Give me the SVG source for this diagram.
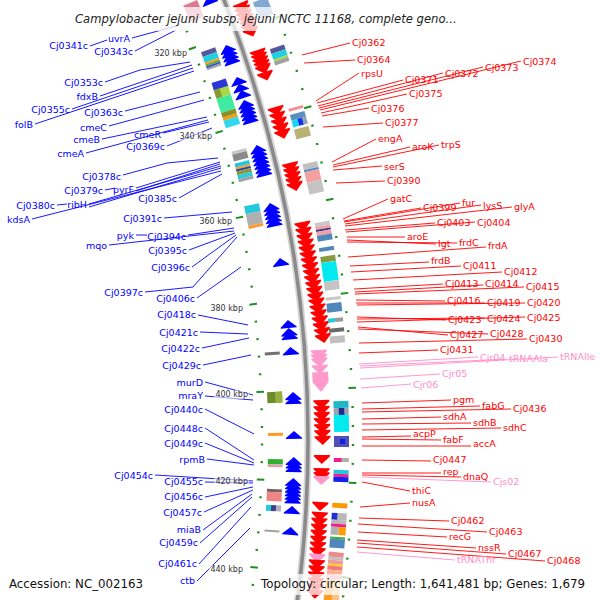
<svg xmlns="http://www.w3.org/2000/svg" width="600" height="600" viewBox="0 0 600 600">
<defs>
<style>
text{font-family:"DejaVu Sans","Liberation Sans",sans-serif}
.bl{font-size:9.5px;fill:#0000ff;text-anchor:end}
.rd{font-size:9.5px;fill:#ff0000}
.pk{font-size:9.5px;fill:#ff8ec8}
.tk{font-size:8px;fill:#333;text-anchor:end}
.lb{stroke:#0000ff;stroke-width:0.9;fill:none}
.lr{stroke:#ff0000;stroke-width:0.9;fill:none}
.lp{stroke:#ff8ec8;stroke-width:0.9;fill:none}
.tkbg{fill:#fff;fill-opacity:0.55}
.band{fill:#fff;fill-opacity:0.75}
</style>
<path id="bc" d="M1181 0L1189 7V8H1173V7Z"/>
<path id="rc" d="M1201 0H1217V1.5L1209 9L1201 1.5Z"/>
<g id="td"><rect x="1147.8" y="-1" width="2.4" height="2"/><rect x="1238.8" y="-1" width="2.4" height="2"/></g>
<g id="tm"><rect x="1144.5" y="-1" width="7.5" height="2"/><rect x="1236.5" y="-1" width="7.5" height="2"/></g>
<rect id="ti" x="1147.8" y="-1" width="2.4" height="2"/>
</defs>
<rect width="600" height="600" fill="#fff"/>

<g id="backbone" fill="none">
<circle cx="-887" cy="440" r="1195" stroke="#d6d6d6" stroke-width="7"/>
<circle cx="-887" cy="440" r="1195" stroke="#8a8a8a" stroke-width="3.6"/>
</g>

<g id="features" transform="translate(-887 440)">
<g fill="#0000ff">
<g transform="rotate(-22.05)"><use href="#bc"/></g>
<g transform="rotate(-19.54)"><use href="#bc"/><use href="#bc" y="4"/><use href="#bc" y="8"/><use href="#bc" y="12"/></g>
<g transform="rotate(-17.90)"><use href="#bc"/><use href="#bc" y="7"/><use href="#bc" y="14"/></g>
<g transform="rotate(-16.73)"><use href="#bc"/><use href="#bc" y="4"/><use href="#bc" y="8"/><use href="#bc" y="12"/><use href="#bc" y="16"/></g>
<g transform="rotate(-14.46)"><use href="#bc"/><use href="#bc" y="4"/><use href="#bc" y="8"/><use href="#bc" y="12"/><use href="#bc" y="16"/><use href="#bc" y="20"/><use href="#bc" y="24"/></g>
<g transform="rotate(-11.58)"><use href="#bc"/><use href="#bc" y="4"/><use href="#bc" y="8"/><use href="#bc" y="12"/><use href="#bc" y="16"/></g>
<g transform="rotate(-8.86)"><use href="#bc"/></g>
<g transform="rotate(-5.83)"><use href="#bc"/></g>
<g transform="rotate(-5.44)"><use href="#bc"/><use href="#bc" y="3.5"/></g>
<g transform="rotate(-4.52)"><use href="#bc"/></g>
<g transform="rotate(-2.33)"><use href="#bc"/><use href="#bc" y="4"/></g>
<g transform="rotate(-0.44)"><use href="#bc"/></g>
<g transform="rotate(0.83)"><use href="#bc"/><use href="#bc" y="3.5"/><use href="#bc" y="7"/></g>
<g transform="rotate(1.84)"><use href="#bc"/><use href="#bc" y="3.5"/><use href="#bc" y="7"/><use href="#bc" y="10.5"/><use href="#bc" y="14"/><use href="#bc" y="17.5"/></g>
<g transform="rotate(3.20)"><use href="#bc"/></g>
<g transform="rotate(4.22)"><use href="#bc"/></g>
</g>
<g fill="#ff0000">
<g transform="rotate(-21.19)"><use href="#rc"/><use href="#rc" y="4.5"/><use href="#rc" y="9"/><use href="#rc" y="13.5"/><use href="#rc" y="18"/><use href="#rc" y="22.5"/><use href="#rc" y="27"/></g>
<g transform="rotate(-18.82)"><use href="#rc"/><use href="#rc" y="4"/><use href="#rc" y="8"/><use href="#rc" y="12"/><use href="#rc" y="16"/></g>
<g transform="rotate(-17.72)"><use href="#rc"/></g>
<g transform="rotate(-15.99)"><use href="#rc"/><use href="#rc" y="6"/><use href="#rc" y="12"/><use href="#rc" y="18"/><use href="#rc" y="24"/></g>
<g transform="rotate(-13.25)"><use href="#rc"/><use href="#rc" y="5"/><use href="#rc" y="10"/><use href="#rc" y="15"/><use href="#rc" y="20"/></g>
<g transform="rotate(-10.39)"><use href="#rc"/><use href="#rc" y="6"/><use href="#rc" y="12"/><use href="#rc" y="18"/><use href="#rc" y="24"/><use href="#rc" y="30"/><use href="#rc" y="36"/><use href="#rc" y="42"/><use href="#rc" y="48"/><use href="#rc" y="54"/><use href="#rc" y="60"/><use href="#rc" y="66"/><use href="#rc" y="72"/><use href="#rc" y="78"/><use href="#rc" y="84"/><use href="#rc" y="90"/><use href="#rc" y="96"/><use href="#rc" y="102"/><use href="#rc" y="108"/><use href="#rc" y="114"/></g>
<g transform="rotate(-1.90)"><use href="#rc"/><use href="#rc" y="6"/><use href="#rc" y="12"/><use href="#rc" y="18"/><use href="#rc" y="24"/><use href="#rc" y="30"/><use href="#rc" y="36"/></g>
<g transform="rotate(0.71)"><use href="#rc"/></g>
<g transform="rotate(1.33)"><use href="#rc"/><use href="#rc" y="4"/><use href="#rc" y="8" fill="#ff99cc"/></g>
<g transform="rotate(2.94)"><use href="#rc"/></g>
<g transform="rotate(3.41)"><use href="#rc"/><use href="#rc" y="6"/><use href="#rc" y="12"/><use href="#rc" y="18"/><use href="#rc" y="24"/><use href="#rc" y="30"/><use href="#rc" y="36"/><use href="#rc" y="42" fill="#ff99cc"/><use href="#rc" y="48"/><use href="#rc" y="54"/><use href="#rc" y="60"/><use href="#rc" y="66"/><use href="#rc" y="72"/><use href="#rc" y="78"/></g>
</g>
<g fill="#ff99cc">
<g transform="rotate(-4.27)"><use href="#rc"/><use href="#rc" y="4"/><use href="#rc" y="8"/></g>
<g transform="rotate(-3.56)"><use href="#rc"/></g>
<g transform="rotate(-3.22)"><path d="M1201 0H1217V10L1209 20L1201 10Z"/></g>
</g>
<g transform="rotate(-22.09)"><rect x="1155" y="0" width="15" height="18" fill="#e07a90"/></g>
<g transform="rotate(-19.61)"><rect x="1155" y="0" width="15" height="5" fill="#565699"/><rect x="1155" y="5" width="15" height="6" fill="#1fd0e2"/><rect x="1155" y="11" width="15" height="2" fill="#ff9a22"/><rect x="1155" y="13" width="15" height="2" fill="#6aaa30"/><rect x="1155" y="15" width="15" height="2" fill="#3355cc"/><rect x="1155" y="17" width="15" height="2" fill="#a0a0a0"/></g>
<g transform="rotate(-18.0)"><rect x="1155" y="0" width="15" height="9" fill="#2a36d8"/></g>
<g transform="rotate(-17.63)"><rect x="1155" y="0" width="15" height="9" fill="#a8d848"/><rect x="1155" y="0" width="6" height="9" fill="#8a9a30"/><rect x="1155" y="9" width="15" height="15" fill="#40eaa0"/><rect x="1155" y="24" width="15" height="5" fill="#8a9030"/><rect x="1155" y="29" width="15" height="3" fill="#ff9900"/><rect x="1155" y="32" width="15" height="8" fill="#30d8ee"/></g>
<g transform="rotate(-14.45)"><rect x="1155" y="0" width="15" height="3" fill="#c8c8c8"/><rect x="1155" y="3" width="15" height="7" fill="#8a8a8a"/></g>
<g transform="rotate(-13.84)"><rect x="1155" y="0" width="15" height="4" fill="#22c8dc"/><rect x="1155" y="4" width="15" height="2" fill="#ff9a30"/><rect x="1155" y="6" width="15" height="2" fill="#2840a8"/><rect x="1155" y="8" width="15" height="4" fill="#8a9a40"/><rect x="1155" y="12" width="15" height="4" fill="#30c8dc"/><rect x="1155" y="16" width="15" height="3" fill="#a0a0a0"/></g>
<g transform="rotate(-11.67)"><rect x="1155" y="0" width="15" height="8" fill="#22c8dc"/><rect x="1155" y="8" width="15" height="12" fill="#b0b0b0"/><rect x="1155" y="20" width="15" height="3" fill="#ff9a30"/></g>
<g transform="rotate(-4.34)"><rect x="1155" y="0" width="15" height="3" fill="#707070"/></g>
<g transform="rotate(-2.37)"><rect x="1155" y="0" width="15" height="11" fill="#6b8c2a"/><rect x="1163" y="0" width="7" height="11" fill="#93b040"/></g>
<g transform="rotate(-0.35)"><rect x="1155" y="0" width="15" height="3" fill="#ff9a22"/></g>
<g transform="rotate(0.94)"><rect x="1155" y="0" width="15" height="5" fill="#30b030"/><rect x="1155" y="5" width="15" height="3" fill="#d8a8a8"/></g>
<g transform="rotate(2.42)"><rect x="1155" y="0" width="15" height="3" fill="#7a6060"/><rect x="1155" y="3" width="15" height="9" fill="#ee8484"/></g>
<g transform="rotate(3.21)"><rect x="1155" y="0" width="5" height="6" fill="#22ccdd"/><rect x="1160" y="0" width="5" height="6" fill="#404088"/><rect x="1165" y="0" width="5" height="6" fill="#b0b0c0"/></g>
<g transform="rotate(4.44)"><rect x="1155" y="0" width="15" height="2" fill="#a0a0a0"/></g>
<g transform="rotate(-21.0)"><rect x="1221" y="0" width="15" height="18" fill="#80a8d0"/></g>
<g transform="rotate(-18.66)"><rect x="1221" y="0" width="15" height="5" fill="#565699"/><rect x="1221" y="5" width="15" height="6" fill="#1fd0e2"/><rect x="1221" y="11" width="15" height="2" fill="#a8d848"/><rect x="1221" y="13" width="15" height="4" fill="#a0a0a0"/></g>
<g transform="rotate(-15.73)"><rect x="1221" y="0" width="15" height="3" fill="#f09090"/></g>
<g transform="rotate(-15.44)"><rect x="1221" y="0" width="15" height="6" fill="#5b8fc0"/><rect x="1221" y="6" width="6" height="7" fill="#18d8ee"/><rect x="1227" y="6" width="5" height="7" fill="#1030ee"/><rect x="1232" y="6" width="4" height="7" fill="#90a0b0"/></g>
<g transform="rotate(-14.72)"><rect x="1221" y="0" width="15" height="10" fill="#b8b274"/></g>
<g transform="rotate(-13.04)"><rect x="1221" y="0" width="15" height="6" fill="#c0c0c0"/><rect x="1221" y="6" width="15" height="2" fill="#4a8ac0"/><rect x="1221" y="8" width="15" height="11" fill="#f4a0a0"/><rect x="1221" y="19" width="15" height="12" fill="#c4c4c4"/></g>
<g transform="rotate(-10.23)"><rect x="1221" y="0" width="15" height="4" fill="#c8c8c8"/><rect x="1221" y="4" width="15" height="3" fill="#f0a0a8"/><rect x="1221" y="7" width="15" height="2" fill="#383878"/><rect x="1221" y="9" width="15" height="4" fill="#f0a0a8"/><rect x="1221" y="13" width="15" height="6" fill="#4f86bb"/></g>
<g transform="rotate(-9.04)"><rect x="1221" y="0" width="15" height="4" fill="#4f86bb"/></g>
<g transform="rotate(-8.62)"><rect x="1221" y="0" width="15" height="6" fill="#8a9a40"/></g>
<g transform="rotate(-8.33)"><rect x="1221" y="0" width="15" height="19" fill="#00eaf0"/></g>
<g transform="rotate(-7.44)"><rect x="1221" y="0" width="15" height="9" fill="#c4c4c4"/></g>
<g transform="rotate(-6.69)"><rect x="1221" y="0" width="15" height="3" fill="#c8c8c8"/></g>
<g transform="rotate(-6.41)"><rect x="1221" y="0" width="15" height="9" fill="#4f86bb"/></g>
<g transform="rotate(-5.70)"><rect x="1221" y="0" width="7" height="4" fill="#22c8dc"/><rect x="1228" y="0" width="8" height="4" fill="#9a9a9a"/></g>
<g transform="rotate(-5.23)"><rect x="1221" y="0" width="15" height="4" fill="#6a6a6a"/></g>
<g transform="rotate(-4.86)"><rect x="1221" y="0" width="15" height="7" fill="#c0c0c0"/></g>
<g transform="rotate(-1.82)"><rect x="1221" y="0" width="15" height="7" fill="#20b8c8"/></g>
<g transform="rotate(-1.49)"><rect x="1221" y="0" width="5" height="7" fill="#a0a0b0"/><rect x="1226" y="0" width="6" height="7" fill="#1a2a90"/><rect x="1232" y="0" width="4" height="7" fill="#a0a0b0"/></g>
<g transform="rotate(-1.17)"><rect x="1221" y="0" width="15" height="17" fill="#00eaf0"/></g>
<g transform="rotate(-0.19)"><rect x="1221" y="0" width="15" height="11" fill="#5050b8"/><rect x="1227" y="3" width="5" height="5" fill="#1020e0"/></g>
<g transform="rotate(0.84)"><rect x="1221" y="0" width="8" height="4" fill="#ee2090"/><rect x="1229" y="0" width="7" height="4" fill="#b0b0b0"/></g>
<g transform="rotate(1.40)"><rect x="1221" y="0" width="15" height="4" fill="#20c8dc"/><rect x="1221" y="4" width="15" height="3" fill="#ee2090"/><rect x="1221" y="7" width="15" height="5" fill="#1020ee"/></g>
<g transform="rotate(2.94)"><rect x="1221" y="0" width="15" height="5" fill="#ff9900"/></g>
<g transform="rotate(3.41)"><rect x="1221" y="0" width="6" height="7" fill="#2030d0"/><rect x="1227" y="0" width="9" height="7" fill="#b8b8b8"/></g>
<g transform="rotate(3.73)"><rect x="1221" y="0" width="15" height="4" fill="#b8b8b8"/><rect x="1221" y="4" width="15" height="3" fill="#ee2090"/><rect x="1221" y="7" width="8" height="8" fill="#b0b0b0"/><rect x="1229" y="7" width="7" height="8" fill="#ff9900"/></g>
<g transform="rotate(4.53)"><rect x="1221" y="0" width="15" height="2" fill="#30b030"/><rect x="1221" y="2" width="15" height="9" fill="#4f86bb"/></g>
<g transform="rotate(5.24)"><rect x="1221" y="0" width="15" height="5" fill="#ee8a8a"/><rect x="1221" y="5" width="15" height="3" fill="#c0c0c0"/><rect x="1221" y="8" width="15" height="4" fill="#f09a9a"/><rect x="1221" y="12" width="15" height="2" fill="#ffcc22"/><rect x="1221" y="14" width="15" height="4" fill="#ee7a7a"/><rect x="1221" y="18" width="15" height="4" fill="#ffb090"/><rect x="1221" y="22" width="15" height="6" fill="#ee8888"/></g>
<g transform="rotate(6.55)"><rect x="1221" y="0" width="8" height="21" fill="#ff9a22"/><rect x="1229" y="0" width="7" height="21" fill="#ffc080"/></g>
<g fill="#1f8f1f">
<use href="#ti" transform="rotate(-21.704)"/><use href="#ti" transform="rotate(-20.827)"/>
<use href="#tm" transform="rotate(-19.95)"/>
<use href="#td" transform="rotate(-19.073)"/><use href="#td" transform="rotate(-18.196)"/><use href="#td" transform="rotate(-17.318)"/><use href="#td" transform="rotate(-16.441)"/>
<use href="#tm" transform="rotate(-15.564)"/>
<use href="#td" transform="rotate(-14.687)"/><use href="#td" transform="rotate(-13.810)"/><use href="#td" transform="rotate(-12.932)"/><use href="#td" transform="rotate(-12.055)"/>
<use href="#tm" transform="rotate(-11.178)"/>
<use href="#td" transform="rotate(-10.301)"/><use href="#td" transform="rotate(-9.424)"/><use href="#td" transform="rotate(-8.546)"/><use href="#td" transform="rotate(-7.669)"/>
<use href="#tm" transform="rotate(-6.792)"/>
<use href="#td" transform="rotate(-5.915)"/><use href="#td" transform="rotate(-5.038)"/><use href="#td" transform="rotate(-4.160)"/><use href="#td" transform="rotate(-3.283)"/>
<use href="#tm" transform="rotate(-2.406)"/>
<use href="#td" transform="rotate(-1.529)"/><use href="#td" transform="rotate(-0.652)"/><use href="#td" transform="rotate(0.226)"/><use href="#td" transform="rotate(1.103)"/>
<use href="#tm" transform="rotate(1.980)"/>
<use href="#td" transform="rotate(2.857)"/><use href="#td" transform="rotate(3.735)"/><use href="#td" transform="rotate(4.612)"/><use href="#td" transform="rotate(5.489)"/>
<use href="#tm" transform="rotate(6.366)"/>
<use href="#td" transform="rotate(7.243)"/>
</g>
</g>

<g id="connectors">
<g class="lb">
<path d="M90 46L107 40"/><path d="M132 38L180 25"/><path d="M135 51L176 30"/>
<path d="M105 82L140 70L190 62"/><path d="M100 96L192 65"/><path d="M72 109L193 68"/><path d="M35 124L194 71"/>
<path d="M125 111L200 92"/><path d="M109 126L204 100"/><path d="M163 133L209 122"/><path d="M102 139L207 117"/><path d="M167 146L212 128"/><path d="M86 153L208 120"/>
<path d="M123 175L167 163L218 158"/><path d="M105 190L115 188"/><path d="M136 188L220 162"/><path d="M136 191L220 164"/><path d="M179 198L222 174"/>
<path d="M57 205L67 204"/><path d="M89 204L221 166"/><path d="M89 207L221 168"/><path d="M32 219L221 171"/>
<path d="M164 218L232 212"/><path d="M136 235L147 235"/><path d="M188 235L234 228"/><path d="M109 245L234 231"/><path d="M189 250L235 233"/><path d="M192 267L236 235"/><path d="M145 292L193 287L237 237"/><path d="M197 298L241 267"/>
<path d="M198 315L248 325"/><path d="M200 332L248 334"/><path d="M202 348L249 338"/><path d="M203 365L251 355"/><path d="M205 382L253 395"/><path d="M205 396L253 400"/><path d="M205 409L254 434"/><path d="M205 428L254 460"/><path d="M205 443L254 463"/><path d="M207 459L254 465"/>
<path d="M155 475L253 481"/><path d="M205 482L253 483"/><path d="M205 497L253 487"/><path d="M204 512L253 490"/><path d="M203 530L252 494"/><path d="M200 543L252 497"/><path d="M199 564L251 507"/><path d="M197 581L250 528"/>
</g>
<g class="lr">
<path d="M302 55L350 43"/><path d="M304 63L355 60"/><path d="M316 101L359 73"/><path d="M317 103L403 80"/><path d="M318 106L443 73"/><path d="M319 108L483 67"/><path d="M320 110L521 61"/><path d="M321 113L407 94"/><path d="M322 116L369 108"/><path d="M323 127L383 123"/>
<path d="M332 162L376 139"/><path d="M333 165L410 147"/><path d="M333 167L439 145"/><path d="M333 170L382 166"/><path d="M336 183L385 181"/>
<path d="M343 219L388 199"/><path d="M344 221L421 208"/><path d="M344 222L460 203"/><path d="M345 224L481 205"/><path d="M345 226L512 207"/><path d="M345 230L435 223"/><path d="M346 232L475 222"/>
<path d="M347 237L405 237"/><path d="M347 240L436 244"/><path d="M347 242L457 243"/><path d="M348 257L486 247"/><path d="M350 266L429 262"/><path d="M351 272L461 266"/><path d="M353 280L502 272"/>
<path d="M354 289L443 284"/><path d="M355 292L483 285"/><path d="M355 294L524 287"/><path d="M356 300L445 301"/><path d="M356 303L485 303"/><path d="M357 305L525 303"/>
<path d="M357 317L446 320"/><path d="M357 319L485 318"/><path d="M357 322L525 317"/><path d="M358 327L448 335"/><path d="M358 329L488 334"/><path d="M359 343L527 339"/><path d="M359 353L438 350"/>
<path d="M362 403L451 400"/><path d="M362 409L480 406"/><path d="M362 412L511 409"/><path d="M362 419L441 417"/><path d="M362 424L471 423"/><path d="M362 430L501 428"/><path d="M362 437L411 436"/><path d="M362 439L441 440"/><path d="M362 446L471 446"/>
<path d="M362 460L431 461"/><path d="M362 473L441 473"/><path d="M362 475L461 477"/><path d="M362 482L410 491"/><path d="M360 507L410 503"/>
<path d="M359 518L449 521"/><path d="M358 524L487 532"/><path d="M358 532L447 537"/><path d="M357 540L476 548"/><path d="M357 543L506 554"/><path d="M357 547L545 561"/>
</g>
<g class="lp">
<path d="M359 364L478 357"/><path d="M360 366L507 359"/><path d="M360 368L558 357"/><path d="M360 379L440 374"/><path d="M361 388L411 384"/><path d="M362 477L491 482"/><path d="M357 552L455 560"/>
</g>
</g>

<g id="tick-labels">
<rect class="tkbg" x="153" y="49" width="35" height="9"/><text class="tk" x="187" y="56">320 kbp</text>
<rect class="tkbg" x="178" y="132" width="35" height="9"/><text class="tk" x="212" y="139">340 kbp</text>
<rect class="tkbg" x="198" y="217" width="35" height="9"/><text class="tk" x="232" y="224">360 kbp</text>
<rect class="tkbg" x="209" y="304" width="35" height="9"/><text class="tk" x="243" y="311">380 kbp</text>
<rect class="tkbg" x="214" y="390" width="35" height="9"/><text class="tk" x="248" y="397">400 kbp</text>
<rect class="tkbg" x="214" y="477" width="35" height="9"/><text class="tk" x="248" y="484">420 kbp</text>
<rect class="tkbg" x="209" y="565" width="35" height="9"/><text class="tk" x="243" y="572">440 kbp</text>
</g>

<g id="labels-left">
<text class="bl" x="88" y="49">Cj0341c</text>
<text class="bl" x="130" y="42">uvrA</text>
<text class="bl" x="133" y="55">Cj0343c</text>
<text class="bl" x="103" y="86">Cj0353c</text>
<text class="bl" x="98" y="100">fdxB</text>
<text class="bl" x="70" y="113">Cj0355c</text>
<text class="bl" x="123" y="116">Cj0363c</text>
<text class="bl" x="33" y="128">folB</text>
<text class="bl" x="107" y="131">cmeC</text>
<text class="bl" x="161" y="138">cmeR</text>
<text class="bl" x="100" y="143">cmeB</text>
<text class="bl" x="165" y="150">Cj0369c</text>
<text class="bl" x="84" y="157">cmeA</text>
<text class="bl" x="121" y="180">Cj0378c</text>
<text class="bl" x="103" y="194">Cj0379c</text>
<text class="bl" x="134" y="193">pyrF</text>
<text class="bl" x="177" y="202">Cj0385c</text>
<text class="bl" x="55" y="209">Cj0380c</text>
<text class="bl" x="87" y="208">ribH</text>
<text class="bl" x="30" y="223">kdsA</text>
<text class="bl" x="162" y="222">Cj0391c</text>
<text class="bl" x="134" y="239">pyk</text>
<text class="bl" x="186" y="240">Cj0394c</text>
<text class="bl" x="107" y="249">mqo</text>
<text class="bl" x="187" y="254">Cj0395c</text>
<text class="bl" x="190" y="271">Cj0396c</text>
<text class="bl" x="143" y="296">Cj0397c</text>
<text class="bl" x="195" y="302">Cj0406c</text>
<text class="bl" x="196" y="318">Cj0418c</text>
<text class="bl" x="198" y="336">Cj0421c</text>
<text class="bl" x="200" y="352">Cj0422c</text>
<text class="bl" x="201" y="369">Cj0429c</text>
<text class="bl" x="203" y="386">murD</text>
<text class="bl" x="203" y="399">mraY</text>
<text class="bl" x="203" y="413">Cj0440c</text>
<text class="bl" x="203" y="432">Cj0448c</text>
<text class="bl" x="203" y="447">Cj0449c</text>
<text class="bl" x="205" y="463">rpmB</text>
<text class="bl" x="153" y="479">Cj0454c</text>
<text class="bl" x="203" y="485">Cj0455c</text>
<text class="bl" x="203" y="500">Cj0456c</text>
<text class="bl" x="202" y="516">Cj0457c</text>
<text class="bl" x="201" y="533">miaB</text>
<text class="bl" x="198" y="546">Cj0459c</text>
<text class="bl" x="197" y="567">Cj0461c</text>
<text class="bl" x="195" y="584">ctb</text>
</g>

<g id="labels-right">
<text class="rd" x="352" y="46">Cj0362</text>
<text class="rd" x="357" y="63">Cj0364</text>
<text class="rd" x="361" y="77">rpsU</text>
<text class="rd" x="405" y="83">Cj0371</text>
<text class="rd" x="445" y="77">Cj0372</text>
<text class="rd" x="485" y="71">Cj0373</text>
<text class="rd" x="523" y="65">Cj0374</text>
<text class="rd" x="409" y="97">Cj0375</text>
<text class="rd" x="371" y="112">Cj0376</text>
<text class="rd" x="385" y="126">Cj0377</text>
<text class="rd" x="378" y="142">engA</text>
<text class="rd" x="412" y="150">aroK</text>
<text class="rd" x="441" y="148">trpS</text>
<text class="rd" x="384" y="170">serS</text>
<text class="rd" x="387" y="184">Cj0390</text>
<text class="rd" x="390" y="202">gatC</text>
<text class="rd" x="423" y="211">Cj0399</text>
<text class="rd" x="462" y="206">fur</text>
<text class="rd" x="483" y="209">lysS</text>
<text class="rd" x="514" y="210">glyA</text>
<text class="rd" x="437" y="226">Cj0403</text>
<text class="rd" x="477" y="226">Cj0404</text>
<text class="rd" x="407" y="240">aroE</text>
<text class="rd" x="438" y="247">lgt</text>
<text class="rd" x="459" y="246">frdC</text>
<text class="rd" x="488" y="249">frdA</text>
<text class="rd" x="431" y="264">frdB</text>
<text class="rd" x="463" y="269">Cj0411</text>
<text class="rd" x="504" y="275">Cj0412</text>
<text class="rd" x="445" y="287">Cj0413</text>
<text class="rd" x="485" y="287">Cj0414</text>
<text class="rd" x="526" y="290">Cj0415</text>
<text class="rd" x="447" y="304">Cj0416</text>
<text class="rd" x="487" y="306">Cj0419</text>
<text class="rd" x="527" y="306">Cj0420</text>
<text class="rd" x="448" y="323">Cj0423</text>
<text class="rd" x="487" y="322">Cj0424</text>
<text class="rd" x="527" y="321">Cj0425</text>
<text class="rd" x="450" y="338">Cj0427</text>
<text class="rd" x="490" y="337">Cj0428</text>
<text class="rd" x="529" y="342">Cj0430</text>
<text class="rd" x="440" y="353">Cj0431</text>
<text class="pk" x="480" y="361">Cjr04</text>
<text class="pk" x="509" y="362">tRNAAla</text>
<text class="pk" x="560" y="360">tRNAIle</text>
<text class="pk" x="442" y="377">Cjr05</text>
<text class="pk" x="413" y="388">Cjr06</text>
<text class="rd" x="453" y="403">pgm</text>
<text class="rd" x="482" y="409">fabG</text>
<text class="rd" x="513" y="412">Cj0436</text>
<text class="rd" x="443" y="420">sdhA</text>
<text class="rd" x="473" y="426">sdhB</text>
<text class="rd" x="503" y="431">sdhC</text>
<text class="rd" x="413" y="437">acpP</text>
<text class="rd" x="443" y="443">fabF</text>
<text class="rd" x="473" y="447">accA</text>
<text class="rd" x="433" y="463">Cj0447</text>
<text class="rd" x="443" y="475">rep</text>
<text class="rd" x="463" y="480">dnaQ</text>
<text class="pk" x="493" y="485">Cjs02</text>
<text class="rd" x="412" y="494">thiC</text>
<text class="rd" x="412" y="506">nusA</text>
<text class="rd" x="451" y="524">Cj0462</text>
<text class="rd" x="489" y="535">Cj0463</text>
<text class="rd" x="449" y="540">recG</text>
<text class="rd" x="478" y="551">nssR</text>
<text class="rd" x="508" y="557">Cj0467</text>
<text class="pk" x="457" y="563">tRNAThr</text>
<text class="rd" x="547" y="564">Cj0468</text>
</g>

<g id="title">
<rect class="band" x="70" y="7" width="392" height="24"/>
<text x="75" y="23" font-size="11.6" font-style="italic" fill="#222">Campylobacter jejuni subsp. jejuni NCTC 11168, complete geno...</text>
</g>
<g id="legend">
<rect class="band" x="5" y="574" width="143" height="21"/>
<text x="9" y="588" font-size="11.8" fill="#111">Accession: NC_002163</text>
<rect class="band" x="257" y="574" width="337" height="21"/>
<text x="261" y="588" font-size="11.8" fill="#111">Topology: circular; Length: 1,641,481 bp; Genes: 1,679</text>
</g>
</svg>
